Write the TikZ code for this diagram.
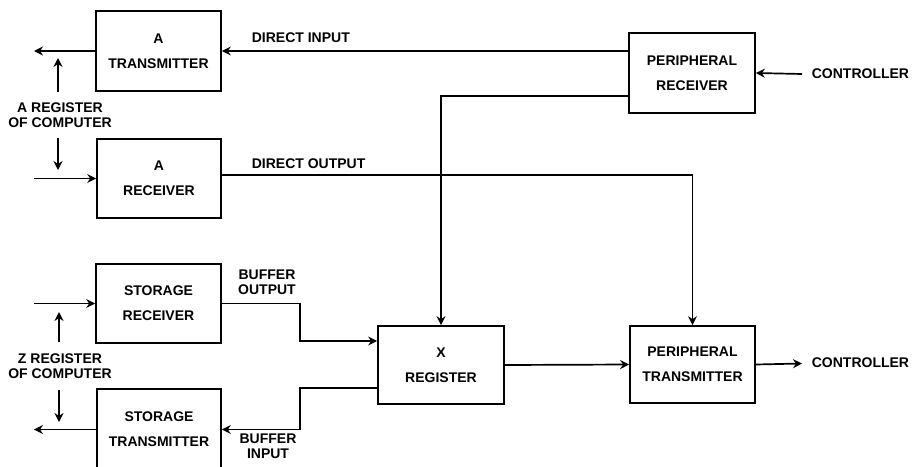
\documentclass[tikz,border=0pt]{standalone}
\usepackage{fontspec}
\setmainfont{Liberation Sans}
\usetikzlibrary{arrows.meta}
\begin{document}
\begin{tikzpicture}[x=1pt,y=-1pt,
  line width=1.7pt,
  arr/.style={-{Stealth[length=9pt,width=9pt,inset=3pt]}},
  blk/.style={draw,rectangle,align=center,inner sep=0pt,
    font=\bfseries\fontsize{14}{25}\selectfont},
  lbl/.style={align=center,inner sep=0pt,font=\bfseries\fontsize{14}{15.5}\selectfont}]
\useasboundingbox (0,0) rectangle (913,466);
\clip (0,0) rectangle (913,466);
% blocks
\node[blk,minimum width=125pt,minimum height=80pt] (AT) at (158.5,51) {A\\TRANSMITTER};
\node[blk,minimum width=124pt,minimum height=79pt] (AR) at (159,178.5) {A\\RECEIVER};
\node[blk,minimum width=126pt,minimum height=80pt] (PR) at (692,73) {PERIPHERAL\\RECEIVER};
\node[blk,minimum width=125pt,minimum height=79pt] (SR) at (158.5,303.5) {STORAGE\\RECEIVER};
\node[blk,minimum width=124pt,minimum height=81pt] (ST) at (159,429.5) {STORAGE\\TRANSMITTER};
\node[blk,minimum width=126pt,minimum height=78pt] (XR) at (441,365) {X\\REGISTER};
\node[blk,minimum width=125pt,minimum height=77pt] (PT) at (692.5,364.5) {PERIPHERAL\\TRANSMITTER};
% labels
\node[lbl] (AREG) at (60,115) {A REGISTER\\OF COMPUTER};
\node[lbl] (ZREG) at (60,366) {Z REGISTER\\OF COMPUTER};
\node[lbl,anchor=base west] (DI) at (251,42) {DIRECT INPUT};
\node[lbl,anchor=base west] (DO) at (251,168) {DIRECT OUTPUT};
\node[lbl] (BO) at (267,282) {BUFFER\\OUTPUT};
\node[lbl] (BI) at (268,446) {BUFFER\\INPUT};
\node[lbl,anchor=west] (C1) at (811,74) {CONTROLLER};
\node[lbl,anchor=west] (C2) at (811,363) {CONTROLLER};
% free ends
\coordinate (aout) at (34,51);
\coordinate (ain) at (34,178.5);
\coordinate (aup1) at (58,92);
\coordinate (aup2) at (58,58);
\coordinate (adn1) at (58,138);
\coordinate (adn2) at (58,170);
\coordinate (zin) at (34,303.5);
\coordinate (zout) at (34,429.5);
\coordinate (zup1) at (59,342);
\coordinate (zup2) at (59,312);
\coordinate (zdn1) at (59,390);
\coordinate (zdn2) at (59,422);
\coordinate (bo) at (300,320);
\coordinate (bi) at (300,410);
\coordinate (c1t) at (802,74);
\coordinate (c2h) at (802,363.5);
% A register side
\draw[arr] (AT.west) -- (aout);
\draw[arr] (ain) -- (AR.west);
\draw[arr] (aup1) -- (aup2);
\draw[arr] (adn1) -- (adn2);
% Z register side
\draw[arr] (zin) -- (SR.west);
\draw[arr] (ST.west) -- (zout);
\draw[arr] (zup1) -- (zup2);
\draw[arr] (zdn1) -- (zdn2);
% direct paths
\draw[arr] (PR.west |- AT.east) -- (AT.east);
\draw[arr] ([yshift=-23pt]PR.west) -| (XR.north);
\draw[arr] ([yshift=3.5pt]AR.east) -| (PT.north);
% buffer paths
\draw[arr] (SR.east) -| (bo) |- ([yshift=24pt]XR.west);
\draw[arr] ([yshift=-23pt]XR.west) -| (bi) |- (ST.east);
% to peripheral transmitter and controller
\draw[arr] (XR.east) -- (PT.west);
\draw[arr] (PT.east) -- (c2h);
\draw[arr] (c1t) -- (PR.east);
\end{tikzpicture}
\end{document}
